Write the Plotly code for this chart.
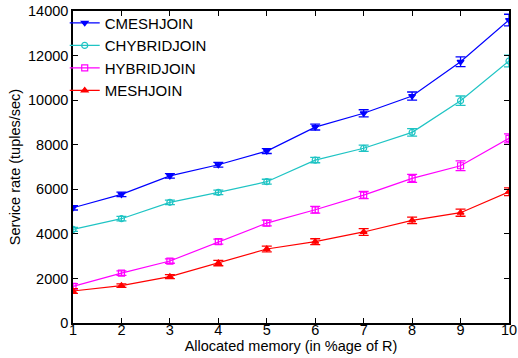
import plotly.graph_objects as go

# Allocated memory (% of R)
memory = [1, 2, 3, 4, 5, 6, 7, 8, 9, 10]

# Service rate (tuples/sec) per algorithm, with error-bar half widths
cmeshjoin = [5170, 5770, 6600, 7100, 7715, 8790, 9410, 10185, 11720, 13595]
cmeshjoin_err = [100, 100, 100, 110, 110, 130, 160, 180, 220, 260]

chybridjoin = [4200, 4680, 5415, 5860, 6340, 7310, 7840, 8555, 9975, 11755]
chybridjoin_err = [90, 100, 100, 100, 110, 120, 140, 170, 210, 260]

hybridjoin = [1645, 2240, 2780, 3650, 4485, 5080, 5740, 6490, 7055, 8285]
hybridjoin_err = [120, 100, 100, 110, 130, 150, 160, 180, 220, 200]

meshjoin = [1435, 1675, 2080, 2690, 3320, 3650, 4085, 4605, 4950, 5890]
meshjoin_err = [110, 80, 90, 120, 130, 130, 150, 150, 160, 170]

y_ticks = [0, 2000, 4000, 6000, 8000, 10000, 12000, 14000]

series = [
    ("CMESHJOIN", cmeshjoin, cmeshjoin_err, "#0000ff", "triangle-down"),
    ("CHYBRIDJOIN", chybridjoin, chybridjoin_err, "#1fc4c4", "circle-open"),
    ("HYBRIDJOIN", hybridjoin, hybridjoin_err, "#ff00ff", "square-open"),
    ("MESHJOIN", meshjoin, meshjoin_err, "#ff0000", "triangle-up"),
]

fig = go.Figure()
for name, vals, err, color, symbol in series:
    fig.add_trace(go.Scatter(
        x=memory, y=vals, name=name, mode="lines+markers",
        line=dict(color=color, width=1.2),
        marker=dict(symbol=symbol, size=6, color=color,
                    line=dict(color=color, width=1.2)),
        error_y=dict(type="data", array=err, visible=True,
                     color=color, thickness=1.3, width=5),
    ))

font_family = "Liberation Sans, Arial, sans-serif"

fig.update_layout(
    width=518, height=358,
    margin=dict(l=73, r=9, t=11, b=35, autoexpand=False),
    paper_bgcolor="white", plot_bgcolor="white",
    font=dict(family=font_family, size=14.5, color="black"),
    showlegend=True,
    legend=dict(
        x=-0.019, y=1.014, xanchor="left", yanchor="top",
        bgcolor="rgba(0,0,0,0)", borderwidth=0,
        font=dict(family=font_family, size=15, color="black"),
        tracegroupgap=0,
    ),
    xaxis=dict(
        range=[1, 10], tickvals=memory, ticks="inside", ticklen=5,
        tickcolor="black", showline=True, linecolor="black", linewidth=1.5,
        mirror="ticks", showgrid=False, zeroline=False, automargin=False,
        ticklabelstandoff=-7,
        title=dict(text="Allocated memory (in %age of R)", standoff=0,
                   font=dict(size=14.5)),
        tickfont=dict(size=14.5),
    ),
    yaxis=dict(
        range=[0, 14000], tickvals=y_ticks, tickformat="d",
        ticks="inside", ticklen=5,
        tickcolor="black", showline=True, linecolor="black", linewidth=1.5,
        mirror="ticks", showgrid=False, zeroline=False, automargin=False,
        title=dict(text="Service rate (tuples/sec)", standoff=4,
                   font=dict(size=14.5)),
        tickfont=dict(size=14.5),
    ),
)

fig.write_html("out.html")
